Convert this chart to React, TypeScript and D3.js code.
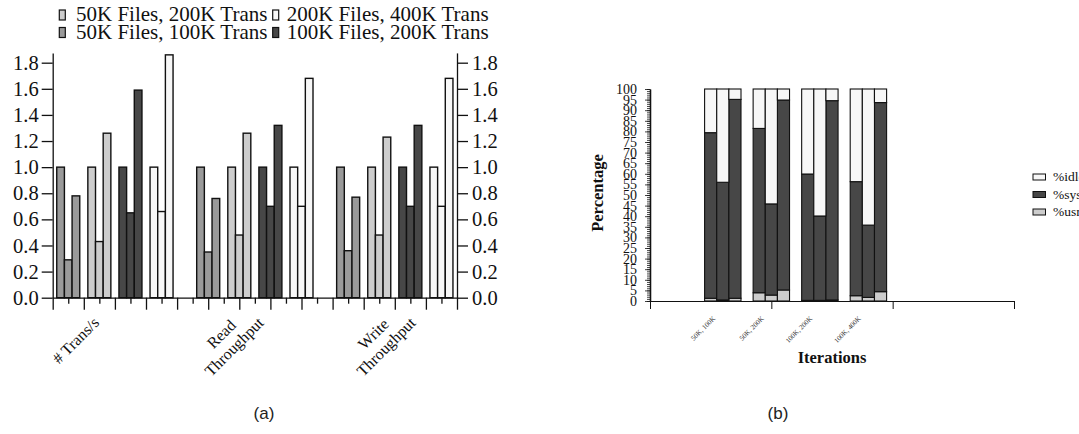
import React, { useRef, useEffect } from 'react';
import * as d3 from 'd3';

// ---- panel (a): normalised results, 4 configurations x 3 bars per metric
const configs = ['50K Files, 100K Trans', '50K Files, 200K Trans', '100K Files, 200K Trans', '200K Files, 400K Trans'];
const configColors = ['#9a9a9a', '#cdcdcd', '#474747', '#f7f7f7'];
const metricLabels = [['# Trans/s'], ['Read', 'Throughput'], ['Write', 'Throughput']];
const transPerSec = [[1.0, 0.29, 0.78], [1.0, 0.43, 1.26], [1.0, 0.65, 1.59], [1.0, 0.66, 1.86]];
const readThroughput = [[1.0, 0.35, 0.76], [1.0, 0.48, 1.26], [1.0, 0.70, 1.32], [1.0, 0.70, 1.68]];
const writeThroughput = [[1.0, 0.36, 0.77], [1.0, 0.48, 1.23], [1.0, 0.70, 1.32], [1.0, 0.70, 1.68]];
const ratioTicks = [0, 0.2, 0.4, 0.6, 0.8, 1.0, 1.2, 1.4, 1.6, 1.8];

// ---- panel (b): cpu breakdown per iteration, 3 stacked bars each
const iterations = ['50K, 100K', '50K, 200K', '100K, 200K', '100K, 400K'];
const usrPct = [[1.3, 0.5, 1.3], [3.9, 2.8, 5.2], [0.3, 0.3, 0.5], [2.5, 1.7, 4.4]];
const sysPct = [[78.1, 55.5, 93.8], [77.5, 43.0, 89.6], [59.6, 39.8, 94.0], [53.8, 34.1, 89.2]];
const idlePct = [[20.6, 44.0, 4.9], [18.6, 54.2, 5.2], [40.1, 59.9, 5.5], [43.7, 64.2, 6.4]];
const cpuKeys = ['%idle', '%sys', '%usr'];
const cpuColors = ['#f7f7f7', '#474747', '#cdcdcd'];

const serif = "'Liberation Serif', 'Times New Roman', serif";

const App = () => {
  const ref = useRef<SVGSVGElement>(null);

  useEffect(() => {
    const svg = d3.select(ref.current);
    svg.selectAll('*').remove();

    // ================= (a) =================
    const x = d3.scaleLinear().domain([0, 26]).range([52.7, 457]);
    const y = d3.scaleLinear().domain([0, 1.875]).range([297.7, 52.9]);
    const inner = d3.scaleBand<number>().domain([0, 1, 2]).range([0.26, 1.74]);
    const a = svg.append('g');

    [transPerSec, readThroughput, writeThroughput].forEach((rows, g) => {
      rows.forEach((vals, c) => {
        const start = g * 9 + c * 2; // each group 8 units + 1 unit gap
        a.append('g').selectAll('rect')
          .data(vals)
          .enter()
          .append('rect')
          .attr('x', (d, i) => x(start + (inner(i) as number)))
          .attr('width', x(inner.bandwidth()) - x(0))
          .attr('y', d => y(d))
          .attr('height', d => y(0) - y(d))
          .attr('fill', configColors[c])
          .attr('stroke', '#111')
          .attr('stroke-width', 1.4);
      });
    });

    const styleAxis = (sel, size) => {
      sel.attr('font-family', serif).attr('font-size', size);
      sel.select('.domain').attr('stroke', '#111').attr('stroke-width', 1.3);
      sel.selectAll('.tick line').attr('stroke', '#111').attr('stroke-width', 1.3);
      sel.selectAll('.tick text').attr('fill', '#111');
    };

    a.append('g')
      .attr('transform', `translate(${x(0)},0)`)
      .call(d3.axisLeft(y).tickValues(ratioTicks).tickFormat(d3.format('.1f')).tickSize(11).tickSizeOuter(0).tickPadding(3))
      .call(s => styleAxis(s, 20.5));
    a.append('g')
      .attr('transform', `translate(${x(26)},0)`)
      .call(d3.axisRight(y).tickValues(ratioTicks).tickFormat(d3.format('.1f')).tickSize(11).tickSizeOuter(0).tickPadding(4))
      .call(s => styleAxis(s, 20.5));

    // x axis: long ticks on even units, short on odd
    const xAxis = a.append('g')
      .attr('transform', `translate(0,${y(0)})`)
      .call(d3.axisBottom(x).tickValues(d3.range(0, 27)).tickFormat(() => '').tickSizeOuter(0))
      .call(s => styleAxis(s, 10));
    xAxis.selectAll('.tick line').attr('y2', d => (d % 2 === 0 ? 12 : 6));

    // rotated group labels (the labels sit on their own, slightly wider spacing)
    const labelX = d3.scalePoint<number>().domain([0, 1, 2]).range([76, 380]);
    metricLabels.forEach((lines, g) => {
      const t = a.append('text')
        .attr('transform', `translate(${labelX(g)},${y(0) + 43}) rotate(-45)`)
        .attr('text-anchor', 'middle')
        .attr('font-family', serif)
        .attr('font-size', 16)
        .attr('fill', '#111');
      lines.forEach((line, i) => {
        t.append('tspan')
          .attr('x', 0)
          .attr('y', (i - (lines.length - 1) / 2) * 18 + 5)
          .text(line);
      });
    });

    // legend, 2 columns, filled bottom-up
    const legendBoxX = [59.3, 272.7];
    const legendTextX = [76, 286.7];
    configs.forEach((name, i) => {
      const col = Math.floor(i / 2);
      const row = 1 - (i % 2);
      const base = 21 + row * 17.5;
      a.append('rect')
        .attr('x', legendBoxX[col]).attr('y', base - 11)
        .attr('width', 6).attr('height', 10)
        .attr('fill', configColors[i]).attr('stroke', '#111').attr('stroke-width', 1.2);
      a.append('text')
        .attr('x', legendTextX[col]).attr('y', base)
        .attr('font-family', serif).attr('font-size', 21).attr('fill', '#111')
        .text(name);
    });

    // ================= (b) =================
    const xr = d3.scaleLinear().domain([0, 3]).range([650, 1014]);
    const yr = d3.scaleLinear().domain([0, 100]).range([301, 89]);
    const band = d3.scaleBand<string>().domain(iterations).range([xr(0.4), xr(2.0)]).paddingInner(0.25).paddingOuter(0.125);
    const inner3 = d3.scaleBand<number>().domain([0, 1, 2]).range([0, band.bandwidth()]);
    const b = svg.append('g');

    const bars = iterations.flatMap((it, g) =>
      [0, 1, 2].map(j => ({ it, j, usr: usrPct[g][j], sys: sysPct[g][j], idle: idlePct[g][j] })));
    const stacked = d3.stack<any>().keys(['usr', 'sys', 'idle'])(bars);
    const stackColor = { usr: cpuColors[2], sys: cpuColors[1], idle: cpuColors[0] };

    stacked.forEach(layer => {
      b.append('g').selectAll('rect')
        .data(layer)
        .enter()
        .append('rect')
        .attr('x', d => (band(d.data.it) as number) + (inner3(d.data.j) as number))
        .attr('width', inner3.bandwidth())
        .attr('y', d => yr(d[1]))
        .attr('height', d => yr(d[0]) - yr(d[1]))
        .attr('fill', stackColor[layer.key])
        .attr('stroke', '#111')
        .attr('stroke-width', 1.1);
    });

    // y axis with dense minor ticks
    b.append('g')
      .attr('transform', `translate(${xr(0)},0)`)
      .call(d3.axisLeft(yr).tickValues(d3.range(0, 101, 1)).tickFormat(() => '').tickSize(3).tickSizeOuter(0))
      .call(s => styleAxis(s, 10));
    b.selectAll('.tick line').attr('stroke-width', 0.8);
    b.append('g')
      .attr('transform', `translate(${xr(0)},0)`)
      .call(d3.axisLeft(yr).tickValues(d3.range(0, 101, 5)).tickSize(5).tickSizeOuter(0).tickPadding(8))
      .call(s => styleAxis(s, 14));
    b.selectAll('.tick line').attr('stroke-width', 0.8);

    b.append('g')
      .attr('transform', `translate(0,${yr(0)})`)
      .call(d3.axisBottom(xr).tickValues([0, 1, 2, 3]).tickFormat(() => '').tickSize(8).tickSizeOuter(0))
      .call(s => styleAxis(s, 10))
      .call(s => s.selectAll('line, path').attr('stroke-width', 1));

    iterations.forEach(it => {
      const cx = (band(it) as number) + band.bandwidth() / 2;
      b.append('text')
        .attr('transform', `translate(${cx - 7},${yr(0) + 18}) rotate(-45)`)
        .attr('text-anchor', 'end')
        .attr('font-family', serif).attr('font-size', 7).attr('fill', '#333')
        .text(it);
    });

    b.append('text')
      .attr('transform', `translate(603,${(yr(0) + yr(100)) / 2 - 2}) rotate(-90)`)
      .attr('text-anchor', 'middle')
      .attr('font-family', serif).attr('font-size', 16.5).attr('font-weight', 'bold').attr('fill', '#111')
      .text('Percentage');
    b.append('text')
      .attr('x', (xr(0) + xr(3)) / 2).attr('y', 363)
      .attr('text-anchor', 'middle')
      .attr('font-family', serif).attr('font-size', 16.5).attr('font-weight', 'bold').attr('fill', '#111')
      .text('Iterations');

    cpuKeys.forEach((key, i) => {
      const base = 181 + i * 17.5;
      b.append('rect')
        .attr('x', 1033).attr('y', base - 7)
        .attr('width', 12.5).attr('height', 6)
        .attr('fill', cpuColors[i]).attr('stroke', '#111').attr('stroke-width', 1);
      b.append('text')
        .attr('x', 1053).attr('y', base)
        .attr('font-family', serif).attr('font-size', 13.5).attr('fill', '#111')
        .text(key);
    });

    // captions
    [['(a)', 264], ['(b)', 778]].forEach(([t, cx]) => {
      svg.append('text')
        .attr('x', cx).attr('y', 419)
        .attr('text-anchor', 'middle')
        .attr('font-family', "'Liberation Sans', Arial, sans-serif").attr('font-size', 17).attr('fill', '#222')
        .text(t);
    });
  }, []);

  return (
    <svg ref={ref} width={1079} height={434}
      style={{ position: 'absolute', left: 0, top: 0, background: '#fff' }} />
  );
};

export default App;
